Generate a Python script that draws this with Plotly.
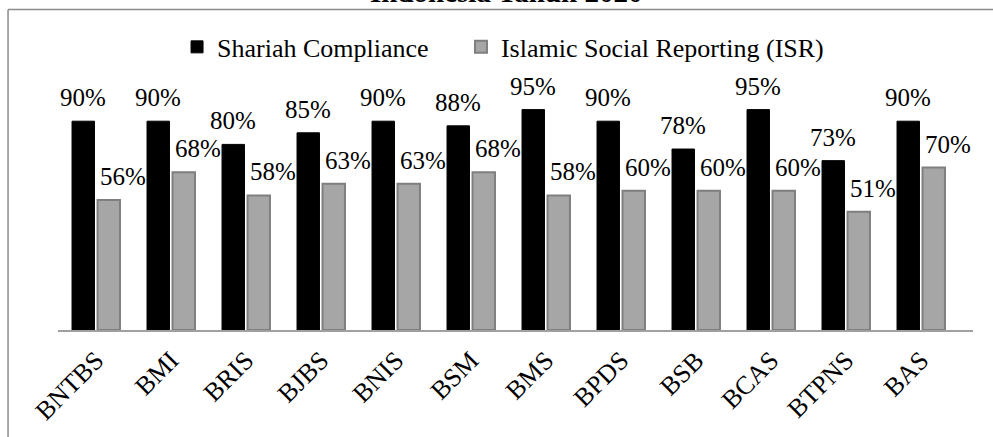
import plotly.graph_objects as go

categories = ["BNTBS", "BMI", "BRIS", "BJBS", "BNIS", "BSM", "BMS", "BPDS", "BSB", "BCAS", "BTPNS", "BAS"]
shariah = [90, 90, 80, 85, 90, 88, 95, 90, 78, 95, 73, 90]
isr = [56, 68, 58, 63, 63, 68, 58, 60, 60, 60, 51, 70]
series_names = ["Shariah Compliance", "Islamic Social Reporting (ISR)"]
title_text = "Indonesia Tahun 2020"

FONT = "Liberation Serif"

fig = go.Figure()
fig.add_trace(go.Bar(
    x=categories, y=shariah, name=series_names[0], legend="legend",
    marker=dict(color="#000000", line=dict(color="#000000", width=1)),
))
fig.add_trace(go.Bar(
    x=categories, y=isr, name=series_names[1], legend="legend2",
    marker=dict(color="#a6a6a6", line=dict(color="#7f7f7f", width=2)),
))

annotations = []
for c, v in zip(categories, shariah):
    annotations.append(dict(x=c, y=v, xref="x", yref="y", text=f"{v}%", showarrow=False,
                            xshift=-13, yshift=8, yanchor="bottom",
                            font=dict(family=FONT, size=25, color="#000")))
for c, v in zip(categories, isr):
    annotations.append(dict(x=c, y=v, xref="x", yref="y", text=f"{v}%", showarrow=False,
                            xshift=27, yshift=8, yanchor="bottom",
                            font=dict(family=FONT, size=25, color="#000")))
annotations.append(dict(x=0.4896, y=1.378, xref="paper", yref="paper", text=f"<b>{title_text}</b>",
                        showarrow=False, xanchor="center", yanchor="bottom",
                        font=dict(family=FONT, size=29, color="#000")))

shapes = [
    dict(type="line", xref="paper", yref="paper", x0=-0.0546, x1=1.05, y0=1.3815, y1=1.3815,
         line=dict(color="#8c8c8c", width=1.5)),
    dict(type="line", xref="paper", yref="paper", x0=-0.0546, x1=-0.0546, y0=1.3815, y1=-0.5,
         line=dict(color="#8c8c8c", width=1.5)),
]

legend_common = dict(orientation="h", yanchor="middle", y=1.22, xanchor="left",
                     font=dict(family=FONT, size=26, color="#000"), itemwidth=30,
                     bgcolor="rgba(0,0,0,0)")

fig.update_layout(
    width=993, height=437,
    margin=dict(l=58, r=20, t=98, b=107, autoexpand=False),
    paper_bgcolor="white", plot_bgcolor="white",
    barmode="group", bargap=0.32, bargroupgap=0.12,
    font=dict(family=FONT, color="#000"),
    showlegend=True,
    legend=dict(x=0.1301, **legend_common),
    legend2=dict(x=0.4404, **legend_common),
    annotations=annotations,
    shapes=shapes,
)
fig.update_xaxes(showline=True, linecolor="#a0a0a0", linewidth=1.5, ticks="", tickangle=-45,
                 ticklabelstandoff=3, automargin=False,
                 tickfont=dict(family=FONT, size=26, color="#000"), showgrid=False)
fig.update_yaxes(range=[0, 100], visible=False, showgrid=False, zeroline=False, automargin=False)

fig.write_html("out.html")
